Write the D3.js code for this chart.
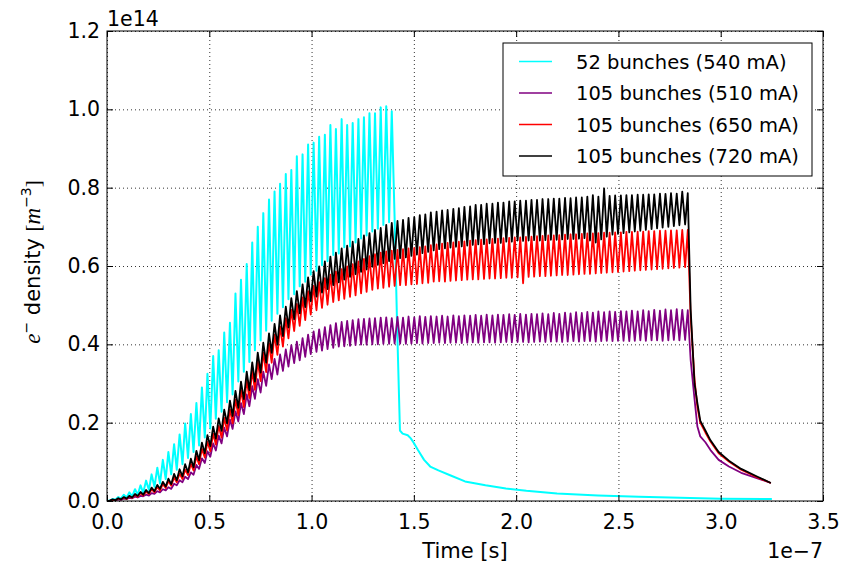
<!DOCTYPE html>
<html>
<head>
<meta charset="utf-8">
<script src="https://cdn.jsdelivr.net/npm/d3@7"></script>
<style>
  body { margin: 0; background: #fff; }
  text { font-family: "DejaVu Sans", sans-serif; fill: #000; }
  .math { font-family: "Liberation Serif", serif; font-style: italic; }
</style>
</head>
<body>
<div id="chart"></div>
<script>
// time axis in units of 1e-7 s, density in units of 1e14 m^-3
const xTicks = [0, 0.5, 1.0, 1.5, 2.0, 2.5, 3.0, 3.5];
const yTicks = [0, 0.2, 0.4, 0.6, 0.8, 1.0, 1.2];

// sample times: bunch passage (even index) and gap (odd index)
const sampleTimes = [
  0.000, 0.014, 0.027, 0.041, 0.055, 0.068, 0.082, 0.096, 0.109, 0.123,
  0.137, 0.150, 0.164, 0.177, 0.191, 0.205, 0.218, 0.232, 0.246, 0.259,
  0.273, 0.287, 0.300, 0.314, 0.328, 0.341, 0.355, 0.369, 0.382, 0.396,
  0.410, 0.423, 0.437, 0.450, 0.464, 0.478, 0.491, 0.505, 0.519, 0.532,
  0.546, 0.560, 0.573, 0.587, 0.601, 0.614, 0.628, 0.642, 0.655, 0.669,
  0.683, 0.696, 0.710, 0.723, 0.737, 0.751, 0.764, 0.778, 0.792, 0.805,
  0.819, 0.833, 0.846, 0.860, 0.874, 0.887, 0.901, 0.915, 0.928, 0.942,
  0.956, 0.969, 0.983, 0.996, 1.010, 1.024, 1.037, 1.051, 1.065, 1.078,
  1.092, 1.106, 1.119, 1.133, 1.147, 1.160, 1.174, 1.188, 1.201, 1.215,
  1.229, 1.242, 1.256, 1.269, 1.283, 1.297, 1.310, 1.324, 1.338, 1.351,
  1.365, 1.379, 1.392, 1.406, 1.420, 1.433, 1.447, 1.461, 1.474, 1.488,
  1.502, 1.515, 1.529, 1.542, 1.556, 1.570, 1.583, 1.597, 1.611, 1.624,
  1.638, 1.652, 1.665, 1.679, 1.693, 1.706, 1.720, 1.734, 1.747, 1.761,
  1.775, 1.788, 1.802, 1.815, 1.829, 1.843, 1.856, 1.870, 1.884, 1.897,
  1.911, 1.925, 1.938, 1.952, 1.966, 1.979, 1.993, 2.007, 2.020, 2.034,
  2.048, 2.061, 2.075, 2.088, 2.102, 2.116, 2.129, 2.143, 2.157, 2.170,
  2.184, 2.198, 2.211, 2.225, 2.239, 2.252, 2.266, 2.280, 2.293, 2.307,
  2.321, 2.334, 2.348, 2.361, 2.375, 2.389, 2.402, 2.416, 2.430, 2.443,
  2.457, 2.471, 2.484, 2.498, 2.512, 2.525, 2.539, 2.553, 2.566, 2.580,
  2.594, 2.607, 2.621, 2.634, 2.648, 2.662, 2.675, 2.689, 2.703, 2.716,
  2.730, 2.744, 2.757, 2.771, 2.785, 2.798, 2.812, 2.826, 2.839, 2.853
];

// 52 bunches (540 mA): peak, trough per bunch
const cyanValues = [
  0.000, 0.001, 0.005, 0.003, 0.010, 0.006, 0.016, 0.009, 0.022, 0.012,
  0.030, 0.016, 0.040, 0.021, 0.052, 0.028, 0.068, 0.036, 0.085, 0.045,
  0.105, 0.056, 0.125, 0.068, 0.145, 0.080, 0.170, 0.094, 0.198, 0.110,
  0.222, 0.125, 0.250, 0.142, 0.290, 0.162, 0.325, 0.185, 0.370, 0.210,
  0.385, 0.228, 0.430, 0.252, 0.455, 0.272, 0.530, 0.305, 0.565, 0.330,
  0.605, 0.355, 0.660, 0.385, 0.700, 0.410, 0.735, 0.435, 0.770, 0.460,
  0.790, 0.478, 0.810, 0.495, 0.835, 0.515, 0.845, 0.528, 0.880, 0.548,
  0.885, 0.560, 0.910, 0.578, 0.915, 0.588, 0.930, 0.602, 0.935, 0.612,
  0.960, 0.628, 0.950, 0.632, 0.975, 0.648, 0.960, 0.650, 0.965, 0.660,
  0.975, 0.670, 0.980, 0.678, 0.990, 0.688, 0.990, 0.695, 1.005, 0.705,
  1.008, 0.712, 0.995, 0.720
];
const cyanTailTimes = [1.418, 1.432, 1.445, 1.470, 1.485, 1.500, 1.520, 1.550, 1.580, 1.620,
  1.680, 1.750, 1.850, 1.950, 2.050, 2.200, 2.400, 2.600, 2.800, 3.000, 3.250];
const cyanTailValues = [0.450, 0.180, 0.172, 0.168, 0.160, 0.148, 0.130, 0.105, 0.088, 0.078,
  0.065, 0.050, 0.040, 0.032, 0.026, 0.019, 0.014, 0.011, 0.008, 0.006, 0.005];

// 105 bunches (510 mA)
const purpleValues = [
  0.000, 0.000, 0.002, 0.001, 0.004, 0.003, 0.006, 0.005, 0.008, 0.007,
  0.011, 0.009, 0.013, 0.012, 0.016, 0.014, 0.020, 0.018, 0.025, 0.022,
  0.030, 0.027, 0.035, 0.031, 0.044, 0.040, 0.053, 0.048, 0.062, 0.056,
  0.073, 0.067, 0.092, 0.082, 0.109, 0.097, 0.127, 0.113, 0.147, 0.129,
  0.167, 0.147, 0.187, 0.165, 0.208, 0.184, 0.229, 0.203, 0.250, 0.222,
  0.272, 0.242, 0.293, 0.261, 0.311, 0.277, 0.330, 0.294, 0.349, 0.311,
  0.363, 0.323, 0.374, 0.332, 0.387, 0.343, 0.398, 0.352, 0.407, 0.359,
  0.416, 0.368, 0.425, 0.375, 0.433, 0.381, 0.438, 0.384, 0.444, 0.388,
  0.449, 0.391, 0.454, 0.394, 0.457, 0.395, 0.460, 0.396, 0.462, 0.398,
  0.464, 0.399, 0.465, 0.399, 0.466, 0.400, 0.467, 0.400, 0.468, 0.401,
  0.469, 0.401, 0.467, 0.402, 0.470, 0.402, 0.468, 0.401, 0.471, 0.402,
  0.469, 0.403, 0.472, 0.402, 0.470, 0.403, 0.472, 0.403, 0.471, 0.404,
  0.473, 0.403, 0.471, 0.404, 0.474, 0.404, 0.472, 0.403, 0.474, 0.404,
  0.473, 0.405, 0.475, 0.404, 0.473, 0.405, 0.476, 0.405, 0.474, 0.404,
  0.476, 0.405, 0.475, 0.406, 0.477, 0.405, 0.475, 0.406, 0.478, 0.406,
  0.476, 0.405, 0.478, 0.406, 0.477, 0.407, 0.479, 0.406, 0.477, 0.407,
  0.480, 0.407, 0.478, 0.406, 0.481, 0.407, 0.479, 0.408, 0.482, 0.407,
  0.480, 0.408, 0.483, 0.408, 0.481, 0.407, 0.484, 0.408, 0.482, 0.409,
  0.484, 0.408, 0.483, 0.409, 0.485, 0.409, 0.484, 0.408, 0.486, 0.409,
  0.484, 0.410, 0.487, 0.409, 0.485, 0.410, 0.488, 0.410, 0.486, 0.409,
  0.489, 0.410, 0.487, 0.411, 0.490, 0.410, 0.488, 0.411, 0.487, 0.360
];

// 105 bunches (650 mA)
const redValues = [
  0.000, 0.001, 0.003, 0.002, 0.006, 0.004, 0.009, 0.005, 0.012, 0.008,
  0.016, 0.011, 0.020, 0.014, 0.024, 0.018, 0.030, 0.022, 0.036, 0.027,
  0.043, 0.033, 0.051, 0.039, 0.060, 0.048, 0.070, 0.056, 0.080, 0.066,
  0.095, 0.078, 0.114, 0.094, 0.133, 0.111, 0.151, 0.127, 0.172, 0.144,
  0.192, 0.162, 0.212, 0.180, 0.234, 0.198, 0.259, 0.219, 0.284, 0.240,
  0.309, 0.263, 0.332, 0.284, 0.356, 0.306, 0.379, 0.329, 0.403, 0.353,
  0.425, 0.373, 0.446, 0.394, 0.467, 0.415, 0.488, 0.434, 0.503, 0.447,
  0.520, 0.462, 0.536, 0.476, 0.549, 0.487, 0.559, 0.493, 0.569, 0.501,
  0.578, 0.508, 0.586, 0.512, 0.592, 0.516, 0.599, 0.521, 0.605, 0.525,
  0.612, 0.530, 0.618, 0.534, 0.625, 0.539, 0.630, 0.542, 0.634, 0.544,
  0.637, 0.547, 0.639, 0.549, 0.641, 0.551, 0.643, 0.551, 0.645, 0.553,
  0.646, 0.554, 0.648, 0.556, 0.650, 0.557, 0.653, 0.560, 0.655, 0.561,
  0.657, 0.560, 0.659, 0.562, 0.660, 0.563, 0.662, 0.564, 0.663, 0.565,
  0.665, 0.566, 0.666, 0.566, 0.667, 0.567, 0.668, 0.568, 0.669, 0.568,
  0.670, 0.569, 0.671, 0.570, 0.672, 0.570, 0.673, 0.571, 0.673, 0.556,
  0.674, 0.572, 0.675, 0.573, 0.676, 0.574, 0.677, 0.574, 0.678, 0.575,
  0.678, 0.576, 0.679, 0.577, 0.680, 0.577, 0.681, 0.578, 0.681, 0.579,
  0.682, 0.580, 0.683, 0.580, 0.683, 0.581, 0.684, 0.582, 0.685, 0.583,
  0.685, 0.584, 0.686, 0.585, 0.686, 0.586, 0.687, 0.587, 0.687, 0.588,
  0.688, 0.589, 0.688, 0.590, 0.689, 0.591, 0.689, 0.592, 0.690, 0.593,
  0.690, 0.594, 0.691, 0.595, 0.691, 0.596, 0.692, 0.597, 0.692, 0.470
];

// 105 bunches (720 mA)
const blackValues = [
  0.000, 0.001, 0.004, 0.002, 0.007, 0.004, 0.010, 0.006, 0.013, 0.009,
  0.018, 0.013, 0.023, 0.016, 0.028, 0.020, 0.034, 0.025, 0.041, 0.031,
  0.049, 0.037, 0.057, 0.043, 0.069, 0.053, 0.081, 0.063, 0.094, 0.073,
  0.108, 0.086, 0.128, 0.104, 0.149, 0.122, 0.168, 0.140, 0.190, 0.159,
  0.211, 0.179, 0.233, 0.198, 0.256, 0.217, 0.281, 0.238, 0.305, 0.260,
  0.330, 0.283, 0.354, 0.305, 0.379, 0.328, 0.404, 0.353, 0.428, 0.378,
  0.452, 0.399, 0.474, 0.421, 0.496, 0.443, 0.518, 0.464, 0.536, 0.479,
  0.553, 0.495, 0.571, 0.510, 0.587, 0.522, 0.599, 0.532, 0.612, 0.541,
  0.624, 0.551, 0.634, 0.558, 0.645, 0.565, 0.652, 0.572, 0.662, 0.579,
  0.669, 0.585, 0.678, 0.591, 0.684, 0.598, 0.692, 0.603, 0.697, 0.607,
  0.705, 0.612, 0.710, 0.618, 0.715, 0.620, 0.718, 0.622, 0.723, 0.626,
  0.725, 0.629, 0.730, 0.633, 0.732, 0.636, 0.737, 0.640, 0.739, 0.643,
  0.742, 0.645, 0.743, 0.647, 0.746, 0.649, 0.748, 0.650, 0.751, 0.652,
  0.752, 0.654, 0.756, 0.655, 0.756, 0.656, 0.759, 0.658, 0.759, 0.659,
  0.762, 0.659, 0.762, 0.662, 0.765, 0.662, 0.765, 0.665, 0.767, 0.664,
  0.767, 0.665, 0.769, 0.666, 0.769, 0.665, 0.771, 0.666, 0.771, 0.667,
  0.772, 0.667, 0.772, 0.668, 0.774, 0.669, 0.773, 0.669, 0.775, 0.670,
  0.775, 0.671, 0.777, 0.665, 0.781, 0.660, 0.777, 0.668, 0.798, 0.675,
  0.779, 0.680, 0.780, 0.682, 0.780, 0.684, 0.781, 0.686, 0.781, 0.688,
  0.782, 0.690, 0.782, 0.692, 0.783, 0.694, 0.783, 0.696, 0.785, 0.698,
  0.784, 0.700, 0.786, 0.702, 0.785, 0.704, 0.790, 0.706, 0.786, 0.490
];

// decay after the train has passed (shared times for the 105-bunch runs)
const tailTimes = [2.872, 2.886, 2.900, 2.925, 2.950, 2.990, 3.040, 3.100, 3.180, 3.245];
const purpleTail = [0.260, 0.190, 0.165, 0.150, 0.130, 0.105, 0.088, 0.072, 0.058, 0.046];
const redTail = [0.310, 0.240, 0.200, 0.175, 0.152, 0.122, 0.101, 0.080, 0.060, 0.046];
const blackTail = [0.300, 0.250, 0.205, 0.180, 0.155, 0.125, 0.103, 0.082, 0.062, 0.046];

const seriesNames = ["52 bunches (540 mA)", "105 bunches (510 mA)", "105 bunches (650 mA)", "105 bunches (720 mA)"];
const seriesColors = ["#00ffff", "#800080", "#ff0000", "#000000"];

function toPoints(values, extraT, extraV) {
  const pts = values.map((v, k) => [sampleTimes[k], v]);
  extraT.forEach((t, k) => pts.push([t, extraV[k]]));
  return pts;
}

const series = [
  toPoints(cyanValues, cyanTailTimes, cyanTailValues),
  toPoints(purpleValues, tailTimes, purpleTail),
  toPoints(redValues, tailTimes, redTail),
  toPoints(blackValues, tailTimes, blackTail)
];

const W = 842, H = 571;
const pL = 107, pR = 823, pT = 31, pB = 501;

const svg = d3.select("#chart").append("svg")
  .attr("width", W)
  .attr("height", H);

const x = d3.scaleLinear().domain([0, 3.5]).range([pL, pR]);
const y = d3.scaleLinear().domain([0, 1.2]).range([pB, pT]);

// grid
svg.append("g")
  .attr("transform", `translate(0,${pB})`)
  .call(d3.axisBottom(x).tickValues(xTicks).tickSize(-(pB - pT)).tickFormat(""))
  .call(g => g.select(".domain").remove())
  .selectAll("line")
  .attr("stroke", "#000")
  .attr("stroke-dasharray", "1,3")
  .attr("stroke-opacity", 0.8);

svg.append("g")
  .attr("transform", `translate(${pL},0)`)
  .call(d3.axisLeft(y).tickValues(yTicks).tickSize(-(pR - pL)).tickFormat(""))
  .call(g => g.select(".domain").remove())
  .selectAll("line")
  .attr("stroke", "#000")
  .attr("stroke-dasharray", "1,3")
  .attr("stroke-opacity", 0.8);

// data lines
svg.append("clipPath").attr("id", "plotClip")
  .append("rect")
  .attr("x", pL).attr("y", pT)
  .attr("width", pR - pL).attr("height", pB - pT);

const line = d3.line()
  .x(d => x(d[0]))
  .y(d => y(d[1]));

svg.append("g")
  .attr("clip-path", "url(#plotClip)")
  .selectAll("path")
  .data(series)
  .enter()
  .append("path")
  .attr("d", line)
  .attr("fill", "none")
  .attr("stroke", (d, i) => seriesColors[i])
  .attr("stroke-width", (d, i) => i === 0 ? 2 : 1.8)
  .attr("stroke-linejoin", "round");

// axes with inward ticks on all four sides
const fmt = d3.format(".1f");

svg.append("g")
  .attr("transform", `translate(0,${pB})`)
  .call(d3.axisBottom(x).tickValues(xTicks).tickSizeInner(-6).tickSizeOuter(0).tickPadding(13).tickFormat(fmt))
  .call(g => g.select(".domain").remove())
  .call(g => g.selectAll("text").style("font-size", "20.5px").attr("fill", "#000"));

svg.append("g")
  .attr("transform", `translate(${pL},0)`)
  .call(d3.axisLeft(y).tickValues(yTicks).tickSizeInner(-6).tickSizeOuter(0).tickPadding(7).tickFormat(fmt))
  .call(g => g.select(".domain").remove())
  .call(g => g.selectAll("text").style("font-size", "20.5px").attr("fill", "#000"));

svg.append("g")
  .attr("transform", `translate(0,${pT})`)
  .call(d3.axisTop(x).tickValues(xTicks).tickSizeInner(-6).tickSizeOuter(0).tickFormat(""))
  .call(g => g.select(".domain").remove());

svg.append("g")
  .attr("transform", `translate(${pR},0)`)
  .call(d3.axisRight(y).tickValues(yTicks).tickSizeInner(-6).tickSizeOuter(0).tickFormat(""))
  .call(g => g.select(".domain").remove());

svg.append("rect")
  .attr("x", pL).attr("y", pT)
  .attr("width", pR - pL).attr("height", pB - pT)
  .attr("fill", "none")
  .attr("stroke", "#000")
  .attr("stroke-width", 1);

// offset texts and axis labels
svg.append("text")
  .attr("x", pL).attr("y", 26)
  .style("font-size", "20.5px")
  .text("1e14");

svg.append("text")
  .attr("x", pR).attr("y", 558)
  .attr("text-anchor", "end")
  .style("font-size", "20.5px")
  .text("1e\u22127");

svg.append("text")
  .attr("x", (pL + pR) / 2).attr("y", 558)
  .attr("text-anchor", "middle")
  .style("font-size", "21px")
  .text("Time [s]");

const ylab = svg.append("text")
  .attr("transform", "translate(40,262) rotate(-90)")
  .attr("text-anchor", "middle")
  .style("font-size", "21px");
ylab.append("tspan").attr("class", "math").style("font-size", "23px").text("e");
ylab.append("tspan").attr("dy", -9).style("font-size", "14px").text("\u2212");
ylab.append("tspan").attr("dy", 9).text(" density ");
ylab.append("tspan").style("font-family", "Liberation Serif").text("[");
ylab.append("tspan").attr("class", "math").style("font-size", "23px").text("m");
ylab.append("tspan").attr("dy", -9).style("font-size", "14px").text("\u22123");
ylab.append("tspan").attr("dy", 9).style("font-family", "Liberation Serif").text("]");

// legend
const legendRows = [61.5, 93, 124.5, 156];
const legend = svg.append("g");
legend.append("rect")
  .attr("x", 503).attr("y", 43)
  .attr("width", 309).attr("height", 133)
  .attr("fill", "#fff")
  .attr("stroke", "#000")
  .attr("stroke-width", 1);

const items = legend.selectAll(".item")
  .data(seriesNames)
  .enter()
  .append("g")
  .attr("class", "item")
  .attr("transform", (d, i) => `translate(0,${legendRows[i]})`);

items.append("line")
  .attr("x1", 519).attr("x2", 552)
  .attr("stroke", (d, i) => seriesColors[i])
  .attr("stroke-width", 1.5);

items.append("text")
  .attr("x", 576).attr("dy", "0.36em")
  .style("font-size", "19.5px")
  .text(d => d);
</script>
</body>
</html>
